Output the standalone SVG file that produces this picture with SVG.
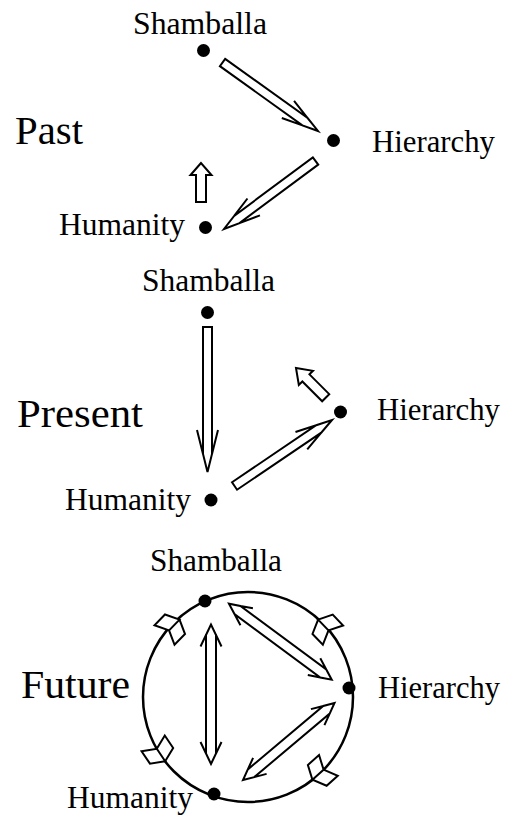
<svg xmlns="http://www.w3.org/2000/svg" width="506" height="817" viewBox="0 0 506 817">
<defs>
<style>
.lbl{font-family:"Liberation Serif","Times New Roman",serif;font-size:31px;fill:#000}
.ttl{font-family:"Liberation Serif","Times New Roman",serif;font-size:41px;fill:#000}
.dot{fill:#000}
.arr{fill:#fff;stroke:#000;stroke-width:2;stroke-linejoin:miter}
.ring{fill:none;stroke:#000;stroke-width:2.5}
</style>
<path id="fl" d="M-7.5,0 L7.5,0 L14,-14 L-1,-14 Z M-7.5,0 L7.5,0 L14,14 L-1,14 Z"/>
</defs>
<rect width="506" height="817" fill="#fff"/>

<text class="ttl" x="15" y="144" textLength="68" lengthAdjust="spacingAndGlyphs">Past</text>
<text class="ttl" x="17" y="427" textLength="126" lengthAdjust="spacingAndGlyphs">Present</text>
<text class="ttl" x="21" y="698" textLength="109" lengthAdjust="spacingAndGlyphs">Future</text>

<g id="past-shamballa"><circle class="dot" cx="203.5" cy="50.5" r="6.5"/><text class="lbl" x="133" y="34" textLength="134" lengthAdjust="spacingAndGlyphs">Shamballa</text></g>
<g id="past-hierarchy"><circle class="dot" cx="333.5" cy="140.5" r="6.5"/><text class="lbl" x="372" y="152" textLength="123" lengthAdjust="spacingAndGlyphs">Hierarchy</text></g>
<g id="past-humanity"><circle class="dot" cx="205.5" cy="227.5" r="6.5"/><text class="lbl" x="59" y="235" textLength="126" lengthAdjust="spacingAndGlyphs">Humanity</text></g>

<g id="present-shamballa"><circle class="dot" cx="207.5" cy="312.5" r="6.5"/><text class="lbl" x="142" y="291" textLength="133" lengthAdjust="spacingAndGlyphs">Shamballa</text></g>
<g id="present-hierarchy"><circle class="dot" cx="340.5" cy="412" r="6.5"/><text class="lbl" x="377" y="420" textLength="123" lengthAdjust="spacingAndGlyphs">Hierarchy</text></g>
<g id="present-humanity"><circle class="dot" cx="211" cy="500" r="6.5"/><text class="lbl" x="65" y="510" textLength="126" lengthAdjust="spacingAndGlyphs">Humanity</text></g>

<g id="future-ring">
<circle class="ring" cx="248" cy="697" r="105"/>
<use href="#fl" class="arr" transform="translate(323.3,625) rotate(46.3)"/>
<use href="#fl" class="arr" transform="translate(174.3,625) rotate(-45.7) scale(-1,1)"/>
<use href="#fl" class="arr" transform="translate(318,774.7) rotate(138) scale(-1,1)"/>
<use href="#fl" class="arr" transform="translate(161,755) rotate(236)"/>
</g>
<g id="future-shamballa"><circle class="dot" cx="205" cy="601" r="6.5"/><text class="lbl" x="150" y="571" textLength="132" lengthAdjust="spacingAndGlyphs">Shamballa</text></g>
<g id="future-hierarchy"><circle class="dot" cx="349" cy="688" r="6.5"/><text class="lbl" x="378" y="698" textLength="122" lengthAdjust="spacingAndGlyphs">Hierarchy</text></g>
<g id="future-humanity"><circle class="dot" cx="214" cy="794" r="6.5"/><text class="lbl" x="67" y="808" textLength="126" lengthAdjust="spacingAndGlyphs">Humanity</text></g>

<g id="connectors">
<path class="arr" transform="translate(318,131) rotate(35.65)" d="M-117.5,-4.5 H-16 L0,0 L-16,4.5 H-117.5 Z M-16,-4.5 L-37,-10.5 M-16,4.5 L-37,10.5"/>
<path class="arr" transform="translate(224,229) rotate(143.4)" d="M-114,-4.5 H-16 L0,0 L-16,4.5 H-114 Z M-16,-4.5 L-37,-10.5 M-16,4.5 L-37,10.5"/>
<path class="arr" transform="translate(201,163) rotate(-90)" d="M0,0 L-12,-10.5 L-12,-5 L-39,-5 L-39,5 L-12,5 L-12,10.5 Z"/>

<path class="arr" transform="translate(207.5,472) rotate(90)" d="M-145,-4.5 H-18 L0,0 L-18,4.5 H-145 Z M-18,-4.5 L-42,-10.5 M-18,4.5 L-42,10.5"/>
<path class="arr" transform="translate(332,420) rotate(-34.1)" d="M-117.7,-4.5 H-16 L0,0 L-16,4.5 H-117.7 Z M-16,-4.5 L-37,-10.5 M-16,4.5 L-37,10.5"/>
<path class="arr" transform="translate(296,368) rotate(-135)" d="M0,0 L-14,-10 L-14,-5 L-42,-5 L-42,5 L-14,5 L-14,10 Z"/>

<path class="arr" transform="translate(211,624.5) rotate(-90)" d="M0,0 L-10.5,-5 H-129 L-139.5,0 L-129,5 H-10.5 Z M-10.5,-5 L-22,-10.5 M-10.5,5 L-22,10.5 M-129,-5 L-117.5,-10.5 M-129,5 L-117.5,10.5"/>
<path class="arr" transform="translate(229,603.7) rotate(216.5)" d="M0,0 L-10.5,-5 H-117.3 L-127.8,0 L-117.3,5 H-10.5 Z M-10.5,-5 L-22,-10.5 M-10.5,5 L-22,10.5 M-117.3,-5 L-105.8,-10.5 M-117.3,5 L-105.8,10.5"/>
<path class="arr" transform="translate(334.5,703) rotate(-40.1)" d="M0,0 L-10.5,-5 H-109.1 L-119.6,0 L-109.1,5 H-10.5 Z M-10.5,-5 L-22,-10.5 M-10.5,5 L-22,10.5 M-109.1,-5 L-97.6,-10.5 M-109.1,5 L-97.6,10.5"/>
</g>
</svg>
